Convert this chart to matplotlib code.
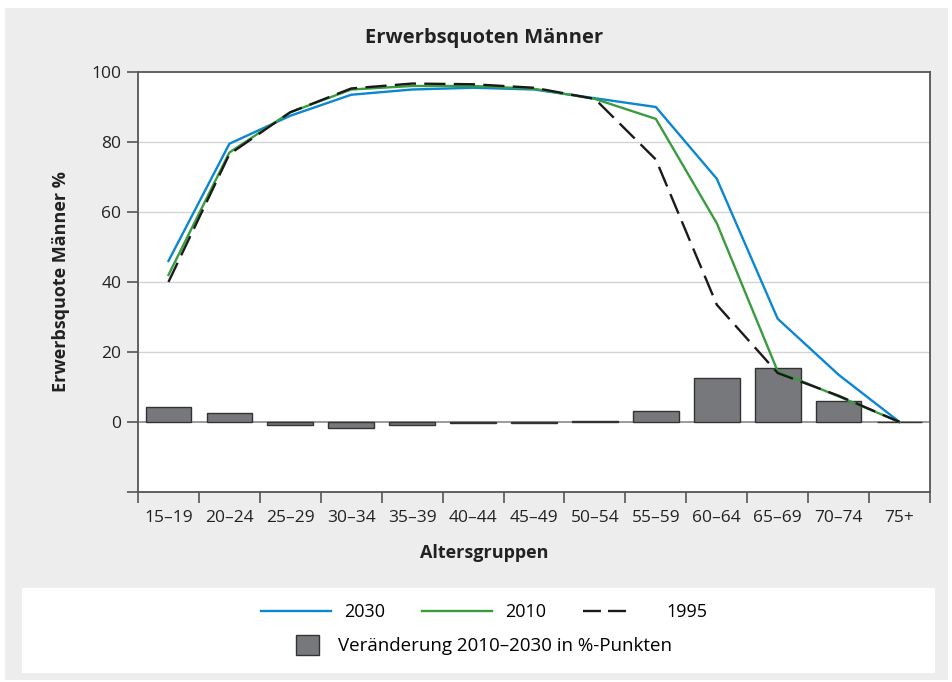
"""Erwerbsquoten Männer: participation rates by age group, 1995 / 2010 / 2030."""

import matplotlib as mpl
import matplotlib.pyplot as plt
import numpy as np
from matplotlib.lines import Line2D
from matplotlib.patches import Patch, Rectangle

AGE_GROUPS = ["15–19", "20–24", "25–29", "30–34", "35–39", "40–44", "45–49",
              "50–54", "55–59", "60–64", "65–69", "70–74", "75+"]
RATE_2030 = [46.0, 79.5, 87.5, 93.5, 95.0, 95.5, 95.0, 92.5, 90.0, 69.5, 29.5, 13.5, 0.0]
RATE_2010 = [42.0, 77.0, 88.5, 95.0, 96.0, 96.0, 95.2, 92.3, 86.6, 56.8, 14.5, 7.3, 0.0]
RATE_1995 = [40.0, 76.5, 88.5, 95.3, 96.7, 96.5, 95.5, 92.3, 75.0, 33.5, 14.0, 7.5, 0.0]
CHANGE = [4.2, 2.5, -0.9, -1.6, -0.9, -0.4, -0.2, 0.4, 3.2, 12.7, 15.3, 6.0, 0.0]

BLUE = "#0a86d2"
GREEN = "#3a9b3f"
BLACK = "#1a1a1a"
BAR = "#77787b"
SPINE = "#555555"
TEXT = "#222222"
LW = 1.7
DASH = (9, 3.5)

mpl.rcParams.update({
    "font.family": ["Open Sans", "DejaVu Sans"],
    "font.size": 12,
    "axes.linewidth": 1.3,
})

fig = plt.figure(figsize=(9.53, 6.82), dpi=100, facecolor="white")
fig.add_artist(Rectangle((5 / 953, 1 - 680 / 682), 943 / 953, 672 / 682,
                         transform=fig.transFigure, facecolor="#ededed",
                         edgecolor="none", zorder=-10))
fig.add_artist(Rectangle((22 / 953, 1 - 673 / 682), 913 / 953, 85 / 682,
                         transform=fig.transFigure, facecolor="white",
                         edgecolor="none", zorder=-9))

ax = fig.add_axes([138 / 953, 1 - 492 / 682, 792 / 953, 420 / 682])
ax.set_facecolor("white")

x = np.arange(len(AGE_GROUPS))
ax.bar(x, CHANGE, width=0.75, color=BAR, edgecolor="#333333", linewidth=1.0, zorder=3)
ax.axhline(0, color="#8a8a8a", linewidth=1.2, zorder=2)

ax.plot(x, RATE_2030, color=BLUE, linewidth=LW, zorder=4)
ax.plot(x, RATE_2010, color=GREEN, linewidth=LW, zorder=5)
ax.plot(x, RATE_1995, color=BLACK, linewidth=LW, dashes=DASH, zorder=6)

ax.set_xlim(-0.5, len(AGE_GROUPS) - 0.5)
ax.set_ylim(-20, 100)
ax.set_yticks([-20, 0, 20, 40, 60, 80, 100])
ax.set_yticklabels(["", "0", "20", "40", "60", "80", "100"])
for y in [20, 40, 60, 80]:
    ax.axhline(y, color="#d3d3d3", linewidth=1.0, zorder=1)

# ticks sit on the group boundaries, labels in the middle of each group
ax.set_xticks(np.arange(len(AGE_GROUPS) + 1) - 0.5)
ax.set_xticklabels([])
ax.set_xticks(x, minor=True)
ax.set_xticklabels(AGE_GROUPS, minor=True)
ax.tick_params(axis="x", which="minor", length=0, pad=13, labelsize=12.5, colors=TEXT)
ax.tick_params(axis="x", which="major", length=8, width=1.2, color=SPINE)
ax.tick_params(axis="y", length=8, width=1.2, color=SPINE, labelsize=12.5,
               labelcolor=TEXT, pad=4)
for s in ax.spines.values():
    s.set_color(SPINE)

fig.text(0.508, 1 - 38 / 682, "Erwerbsquoten Männer", ha="center", va="center",
         fontsize=14.5, fontweight="bold", color=TEXT)
fig.text(61 / 953, 1 - 282 / 682, "Erwerbsquote Männer %", ha="center", va="center",
         rotation=90, fontsize=13, fontweight="bold", color=TEXT)
fig.text(0.508, 1 - 553 / 682, "Altersgruppen", ha="center", va="center",
         fontsize=13, fontweight="bold", color=TEXT)

line_handles = [
    Line2D([], [], color=BLUE, linewidth=LW),
    Line2D([], [], color=GREEN, linewidth=LW),
    Line2D([], [], color=BLACK, linewidth=LW, dashes=(7.6, 3, 7.6, 20)),
]
fig.legend(line_handles, ["2030", "2010", "1995"], loc="center",
           bbox_to_anchor=(0.508, 1 - 612 / 682), ncol=3, frameon=False,
           handlelength=3.9, columnspacing=2.0, handletextpad=0.75, fontsize=13)
fig.legend([Patch(facecolor=BAR, edgecolor="#333333", linewidth=1.0)],
           ["Veränderung 2010–2030 in %-Punkten"], loc="center",
           bbox_to_anchor=(0.508, 1 - 645 / 682), frameon=False,
           handlelength=1.25, handleheight=1.3, handletextpad=1.0, fontsize=13.5)

fig.savefig("out.png", dpi=100, facecolor="white")
